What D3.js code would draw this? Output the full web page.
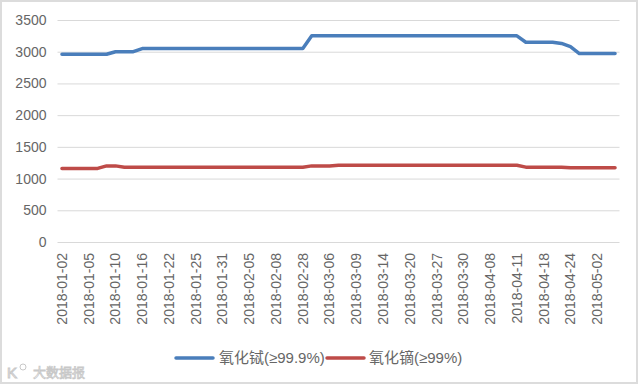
<!DOCTYPE html>
<html>
<head>
<meta charset="utf-8">
<script src="https://cdn.jsdelivr.net/npm/d3@7"></script>
<style>
  html, body { margin: 0; padding: 0; background: #fff; }
  text { font-family: "Liberation Sans", "Noto Sans CJK SC", sans-serif; }
</style>
</head>
<body>
<div id="chart"></div>
<script>
const dates = [
  "2018-01-02","2018-01-03","2018-01-04","2018-01-05","2018-01-08","2018-01-09","2018-01-10",
  "2018-01-11","2018-01-12","2018-01-16","2018-01-17","2018-01-18","2018-01-22","2018-01-23",
  "2018-01-24","2018-01-25","2018-01-26","2018-01-29","2018-01-31","2018-02-01","2018-02-02",
  "2018-02-05","2018-02-06","2018-02-07","2018-02-08","2018-02-09","2018-02-12","2018-02-28",
  "2018-03-01","2018-03-02","2018-03-06","2018-03-07","2018-03-08","2018-03-09","2018-03-12",
  "2018-03-13","2018-03-14","2018-03-15","2018-03-16","2018-03-20","2018-03-21","2018-03-22",
  "2018-03-27","2018-03-28","2018-03-29","2018-03-30","2018-04-02","2018-04-03","2018-04-08",
  "2018-04-09","2018-04-10","2018-04-11","2018-04-12","2018-04-13","2018-04-18","2018-04-19",
  "2018-04-20","2018-04-24","2018-04-25","2018-04-26","2018-05-02","2018-05-03","2018-05-04"
];
const terbium = [
  2960,2960,2960,2960,2960,2960,3000,3000,3000,3050,3050,3050,3050,3050,3050,3050,
  3050,3050,3050,3050,3050,3050,3050,3050,3050,3050,3050,3050,3250,3250,3250,3250,
  3250,3250,3250,3250,3250,3250,3250,3250,3250,3250,3250,3250,3250,3250,3250,3250,
  3250,3250,3250,3250,3150,3150,3150,3150,3130,3080,2970,2970,2970,2970,2970
];
const dysprosium = [
  1160,1160,1160,1160,1160,1200,1200,1180,1180,1180,1180,1180,1180,1180,1180,1180,
  1180,1180,1180,1180,1180,1180,1180,1180,1180,1180,1180,1180,1200,1200,1200,1210,
  1210,1210,1210,1210,1210,1210,1210,1210,1210,1210,1210,1210,1210,1210,1210,1210,
  1210,1210,1210,1210,1180,1180,1180,1180,1180,1170,1170,1170,1170,1170,1170
];
const yTicks = [0,500,1000,1500,2000,2500,3000,3500];
const seriesNames = ["氧化铽(≥99.9%)","氧化镝(≥99%)"];
const seriesColors = ["#4a7ebb","#be4b48"];

const width = 640, height = 385;
const margin = {top: 20, right: 20.5, bottom: 143, left: 57.5};

const svg = d3.select("#chart").append("svg")
  .attr("width", width)
  .attr("height", height)
  .style("display", "block");

// grey frame of the picture
svg.append("rect")
  .attr("x", 1).attr("y", 1)
  .attr("width", width - 4).attr("height", height - 3)
  .attr("fill", "#fff").attr("stroke", "#dcdcdc").attr("stroke-width", 2);

const xScale = d3.scaleBand()
  .domain(dates)
  .range([margin.left, width - margin.right]);
const yScale = d3.scaleLinear()
  .domain([0, 3500])
  .range([height - margin.bottom, margin.top]);

// gridlines + y labels
const yAxis = svg.append("g")
  .attr("transform", `translate(${margin.left},0)`)
  .call(d3.axisLeft(yScale)
    .tickValues(yTicks)
    .tickFormat(d3.format("d"))
    .tickSize(-(width - margin.left - margin.right))
    .tickPadding(11));
yAxis.select(".domain").remove();
yAxis.selectAll("line").attr("stroke", "#d9d9d9").attr("stroke-width", 1);
yAxis.selectAll("text")
  .style("font-size", "14px")
  .attr("fill", "#666");

// x labels, every third date
const xAxis = svg.append("g")
  .attr("transform", `translate(0,${height - margin.bottom})`)
  .call(d3.axisBottom(xScale)
    .tickValues(dates.filter((d, i) => i % 3 === 0))
    .tickSize(0));
xAxis.select(".domain").remove();
xAxis.selectAll("text")
  .style("font-size", "14px")
  .style("text-anchor", "end")
  .attr("fill", "#666")
  .attr("transform", "rotate(-90)")
  .attr("x", -11)
  .attr("y", 0)
  .attr("dy", "0.35em");

const line = d3.line()
  .x((d, i) => xScale(dates[i]) + xScale.bandwidth() / 2)
  .y(d => yScale(d));

[terbium, dysprosium].forEach((values, i) => {
  svg.append("path")
    .datum(values)
    .attr("fill", "none")
    .attr("stroke", seriesColors[i])
    .attr("stroke-width", 3.5)
    .attr("stroke-linecap", "round")
    .attr("stroke-linejoin", "round")
    .attr("d", line);
});

// legend
const legendX = [176, 327];
const legendTextX = [219, 369];
seriesNames.forEach((name, i) => {
  svg.append("line")
    .attr("x1", legendX[i]).attr("x2", legendX[i] + 37)
    .attr("y1", 358).attr("y2", 358)
    .attr("stroke", seriesColors[i])
    .attr("stroke-width", 3.5)
    .attr("stroke-linecap", "round");
  svg.append("text")
    .attr("x", legendTextX[i])
    .attr("y", 363)
    .attr("fill", "#666")
    .style("font-size", "15px")
    .text(name);
});

// watermark
svg.append("text")
  .attr("x", 7).attr("y", 378)
  .attr("fill", "#fff")
  .attr("stroke", "#c8c8c8")
  .attr("stroke-width", 1)
  .style("font-size", "15px")
  .text("K");
svg.append("circle")
  .attr("cx", 23).attr("cy", 367).attr("r", 3)
  .attr("fill", "#fff").attr("stroke", "#c8c8c8");
svg.append("text")
  .attr("x", 33).attr("y", 377)
  .attr("fill", "#fff")
  .attr("stroke", "#c8c8c8")
  .attr("stroke-width", 0.8)
  .style("font-size", "13px")
  .text("大数据报");
</script>
</body>
</html>
